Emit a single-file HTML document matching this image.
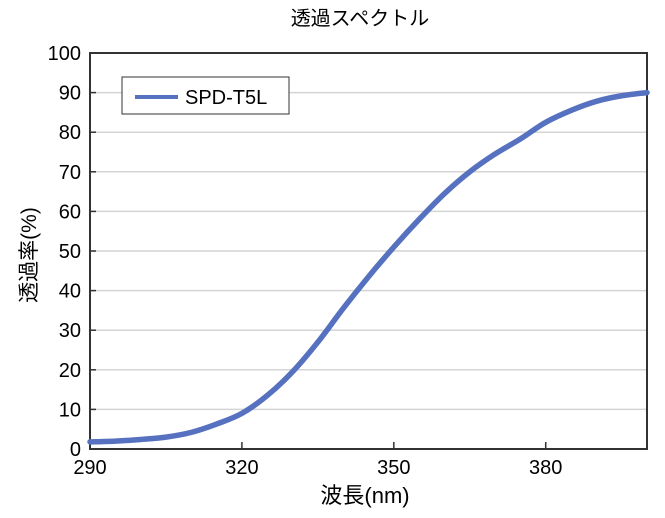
<!DOCTYPE html>
<html><head><meta charset="utf-8"><style>
body{margin:0;background:#fff;}
svg{display:block;font-family:"Liberation Sans","Noto Sans CJK JP",sans-serif;}
</style></head><body>
<svg id="chart" width="665" height="518">
<text x="360" y="25" font-size="20" text-anchor="middle">透過スペクトル</text>
<g id="grid"></g><g id="ticks"></g>
<rect x="90" y="53" width="557" height="396" fill="none" stroke="#333" stroke-width="2"/>
<path id="series" fill="none" stroke="#5671bf" stroke-width="5.5" stroke-linejoin="round" stroke-linecap="round"/>
<g>
<rect x="122" y="77" width="167" height="37" fill="#fff" stroke="#333" stroke-width="1"/>
<line x1="135" y1="97" x2="178" y2="97" stroke="#5671bf" stroke-width="4"/>
<text x="185" y="104" font-size="20">SPD-T5L</text>
</g>
<text transform="translate(36,255) rotate(-90)" font-size="21" text-anchor="middle">透過率(%)</text>
<text x="365" y="503" font-size="22" text-anchor="middle">波長(nm)</text>
</svg>
<script>
const wavelengths=[290,295,300,305,310,315,320,325,330,335,340,345,350,355,360,365,370,375,380,385,390,395,400];
const transmission=[1.8,2.0,2.4,3.0,4.2,6.3,9.0,13.5,19.5,27.0,35.5,43.5,51.0,58.0,64.5,70.0,74.5,78.3,82.5,85.5,87.8,89.2,90.0];
const yTicks=[0,10,20,30,40,50,60,70,80,90,100];
const xTicks=[290,320,350,380];
const L=90,R=647,T=53,B=449,X0=290,X1=400,Y0=0,Y1=100;
const sx=v=>L+(v-X0)/(X1-X0)*(R-L);
const sy=v=>B-(v-Y0)/(Y1-Y0)*(B-T);
const NS="http://www.w3.org/2000/svg";
const grid=document.getElementById('grid'),ticks=document.getElementById('ticks');
function mk(tag,attrs,parent){const e=document.createElementNS(NS,tag);for(const k in attrs)e.setAttribute(k,attrs[k]);parent.appendChild(e);return e;}
yTicks.forEach(v=>{
  if(v>0&&v<100){const g=mk('line',{x1:L,x2:R,y1:sy(v),y2:sy(v),stroke:'#d4d4d4','stroke-width':1.5},grid);
  
  }
  const tk=mk('line',{x1:L,x2:L+6,y1:sy(v),y2:sy(v),stroke:'#333','stroke-width':1.5},ticks);
  
  
  const t=mk('text',{x:L-9,y:sy(v)+7,'font-size':20,'text-anchor':'end'},ticks);
  t.textContent=v;
  
  
});
xTicks.forEach(v=>{
  const tk=mk('line',{x1:sx(v),x2:sx(v),y1:B,y2:B-7,stroke:'#333','stroke-width':1.5},ticks);
  
  
  const t=mk('text',{x:sx(v),y:B+25,'font-size':20,'text-anchor':'middle'},ticks);
  t.textContent=v;
  
  
});
const pts=wavelengths.map((w,i)=>[sx(w),sy(transmission[i])]);
let d=`M${pts[0][0]},${pts[0][1]}`;
for(let i=0;i<pts.length-1;i++){
  const p0=pts[Math.max(0,i-1)],p1=pts[i],p2=pts[i+1],p3=pts[Math.min(pts.length-1,i+2)];
  const c1=[p1[0]+(p2[0]-p0[0])/6,p1[1]+(p2[1]-p0[1])/6];
  const c2=[p2[0]-(p3[0]-p1[0])/6,p2[1]-(p3[1]-p1[1])/6];
  d+=` C${c1[0]},${c1[1]} ${c2[0]},${c2[1]} ${p2[0]},${p2[1]}`;
}
document.getElementById('series').setAttribute('d',d);
</script>
</body></html>
